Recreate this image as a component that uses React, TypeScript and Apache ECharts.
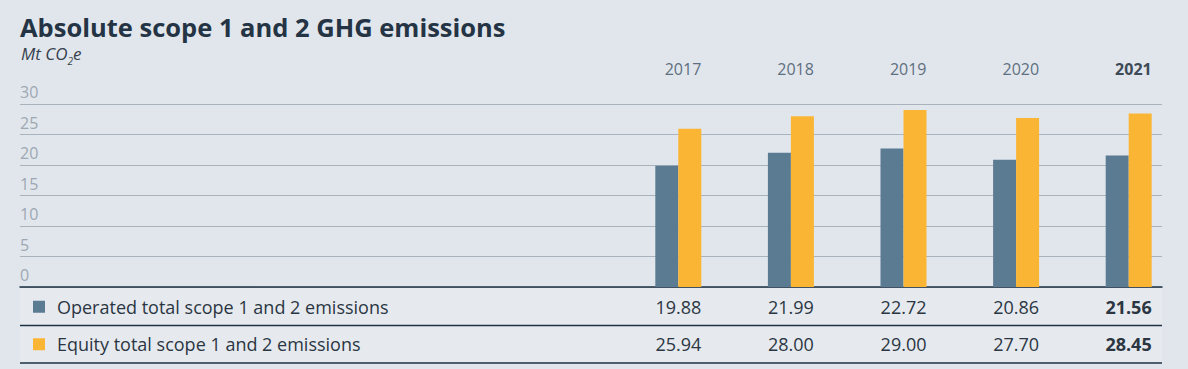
import React, { useEffect, useRef } from "react";
import * as echarts from "echarts";

const title = "Absolute scope 1 and 2 GHG emissions";
const years = ["2017", "2018", "2019", "2020", "2021"];
const seriesNames = ["Operated total scope 1 and 2 emissions", "Equity total scope 1 and 2 emissions"];
const operated = [19.88, 21.99, 22.72, 20.86, 21.56];
const equity = [25.94, 28.0, 29.0, 27.7, 28.45];
const yMin = 0;
const yMax = 30;
const yStep = 5;

const BG = "#e1e6ec";
const C_OP = "#5b7b93";
const C_EQ = "#fbb534";
const DARK = "#1e3043";
const TEXT = "#2b3642";
const FONT = "'Open Sans', 'Noto Sans', sans-serif";

export default function App() {
  const ref = useRef<HTMLDivElement>(null);
  useEffect(() => {
    document.body.style.margin = "0";
    const chart = echarts.init(ref.current!, null, { renderer: "svg" });
    const left = 20;
    const right = 1162;
    const base: any = {
      animation: false,
      backgroundColor: BG,
      textStyle: { fontFamily: FONT },
      grid: [
        { left: left, right: 1188 - right, top: 104, bottom: 369 - 287 },
        { left: 622, right: 3, top: 104, bottom: 369 - 287 },
      ],
      xAxis: [
        {
          gridIndex: 0,
          type: "category",
          data: [""],
          axisLine: { show: true, lineStyle: { color: DARK, width: 1.5 } },
          axisTick: { show: false },
          axisLabel: { show: false },
        },
        {
          gridIndex: 1,
          type: "category",
          data: years,
          show: false,
        },
      ],
      yAxis: [
        {
          gridIndex: 0,
          type: "value",
          min: yMin,
          max: yMax,
          interval: yStep,
          axisLine: { show: false },
          axisTick: { show: false },
          splitLine: { lineStyle: { color: "#a9b3bd", width: 1 } },
          axisLabel: {
            inside: true,
            margin: 0,
            align: "left",
            verticalAlign: "bottom",
            padding: [0, 0, 4, 0],
            color: "#9da8b3",
            fontSize: 16,
            fontFamily: FONT,
          },
        },
        {
          gridIndex: 1,
          type: "value",
          min: yMin,
          max: yMax,
          interval: yStep,
          show: false,
          splitLine: { show: false },
        },
      ],
      series: [
        {
          name: seriesNames[0],
          type: "bar",
          xAxisIndex: 1,
          yAxisIndex: 1,
          data: operated,
          barWidth: 23,
          barGap: "0%",
          itemStyle: { color: C_OP },
        },
        {
          name: seriesNames[1],
          type: "bar",
          xAxisIndex: 1,
          yAxisIndex: 1,
          data: equity,
          barWidth: 23,
          barGap: "0%",
          itemStyle: { color: C_EQ },
        },
      ],
    };
    chart.setOption(base);

    const rowTop = 288;
    const rowH = 37.5;
    const graphics: any[] = [
      {
        type: "rect",
        shape: { x: left, y: rowTop, width: right - left, height: rowH * 2 },
        style: { fill: "#e6eaef" },
        z: -1,
      },
      {
        type: "text",
        x: left,
        y: 27,
        style: {
          text: title,
          fontFamily: FONT,
          fontWeight: "bold",
          fontSize: 25.5,
          fill: "#243444",
          verticalAlign: "middle",
        },
      },
      {
        type: "text",
        x: left + 1,
        y: 45,
        style: {
          text: "{a|Mt CO}{s|2}{a|e}",
          verticalAlign: "top",
          rich: {
            a: { fontFamily: FONT, fontStyle: "italic", fontSize: 17, fill: "#35414d", lineHeight: 19, verticalAlign: "top" },
            s: { fontFamily: FONT, fontStyle: "italic", fontSize: 10, fill: "#35414d", lineHeight: 19, padding: [11, 0, 0, 0], verticalAlign: "top" },
          },
        },
      },
    ];
    [rowTop + rowH, rowTop + rowH * 2].forEach((y) => {
      graphics.push({
        type: "line",
        shape: { x1: left, y1: y, x2: right, y2: y },
        style: { stroke: DARK, lineWidth: 1.5 },
      });
    });
    const rows = [operated, equity];
    const colors = [C_OP, C_EQ];
    rows.forEach((vals, r) => {
      const cy = rowTop + rowH * r + rowH / 2;
      graphics.push({
        type: "rect",
        shape: { x: 33, y: cy - 6, width: 12, height: 12 },
        style: { fill: colors[r] },
      });
      graphics.push({
        type: "text",
        x: 57,
        y: cy,
        style: { text: seriesNames[r], fontFamily: FONT, fontSize: 18, fill: TEXT, verticalAlign: "middle" },
      });
      vals.forEach((v, i) => {
        const cx = chart.convertToPixel({ xAxisIndex: 1 } as any, i) as number;
        graphics.push({
          type: "text",
          x: cx + 23,
          y: cy,
          style: {
            text: v.toFixed(2),
            fontFamily: FONT,
            fontSize: 18,
            fontWeight: i === vals.length - 1 ? "bold" : "normal",
            fill: TEXT,
            align: "right",
            verticalAlign: "middle",
          },
        });
      });
    });
    years.forEach((yr, i) => {
      const cx = chart.convertToPixel({ xAxisIndex: 1 } as any, i) as number;
      const last = i === years.length - 1;
      graphics.push({
        type: "text",
        x: cx + 23,
        y: 69,
        style: {
          text: yr,
          fontFamily: FONT,
          fontSize: 16,
          fontWeight: last ? "bold" : "normal",
          fill: last ? "#3d4a57" : "#5e6f7f",
          align: "right",
          verticalAlign: "middle",
        },
      });
    });
    chart.setOption({ graphic: graphics });
    return () => chart.dispose();
  }, []);
  return <div ref={ref} style={{ width: 1188, height: 369 }} />;
}
